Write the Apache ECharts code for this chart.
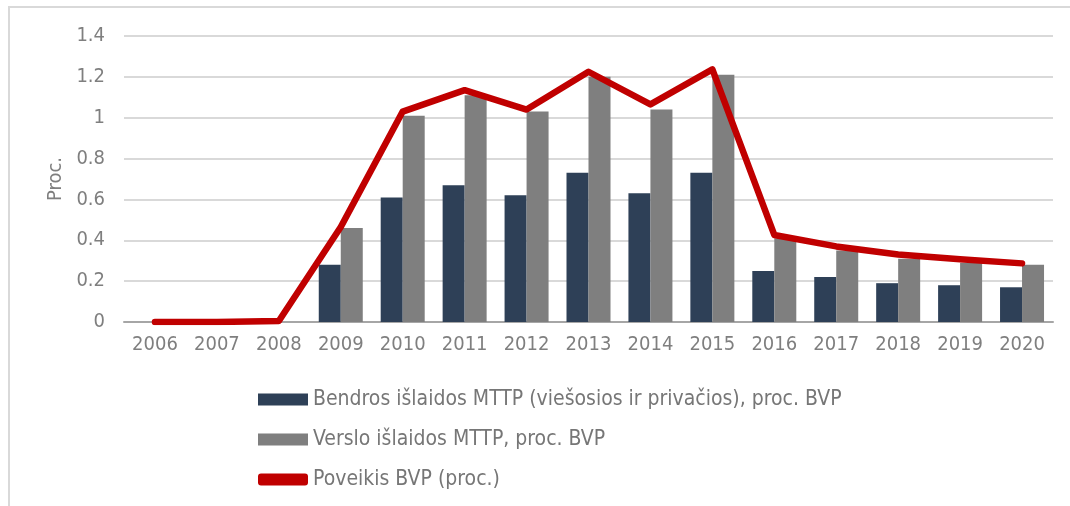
<!DOCTYPE html>
<html>
<head>
<meta charset="utf-8">
<script src="https://cdn.jsdelivr.net/npm/echarts@6/dist/echarts.min.js"></script>
<style>
    html, body { margin: 0; padding: 0; background: #fff; }
    #main { width: 1070px; height: 506px; }
</style>
</head>
<body>
<div id="main"></div>
<script>
var years = ['2006', '2007', '2008', '2009', '2010', '2011', '2012', '2013', '2014', '2015', '2016', '2017', '2018', '2019', '2020'];
// Bendros išlaidos MTTP (viešosios ir privačios)
var bendros = [null, null, null, 0.28, 0.61, 0.67, 0.62, 0.73, 0.63, 0.73, 0.25, 0.22, 0.19, 0.18, 0.17];
// Verslo išlaidos MTTP
var verslo = [null, null, null, 0.46, 1.01, 1.11, 1.03, 1.20, 1.04, 1.21, 0.41, 0.35, 0.31, 0.29, 0.28];
// Poveikis BVP
var poveikis = [0, 0, 0.005, 0.465, 1.03, 1.135, 1.04, 1.225, 1.065, 1.237, 0.426, 0.37, 0.33, 0.307, 0.287];
var names = ['Bendros išlaidos MTTP (viešosios ir privačios), proc. BVP', 'Verslo išlaidos MTTP, proc. BVP', 'Poveikis BVP (proc.)'];

var font = 'DejaVu Sans Condensed';
var myChart = echarts.init(document.getElementById('main'));
var option = {
    animation: false,
    textStyle: { fontFamily: font },
    graphic: [{
        type: 'rect',
        shape: { x: 9, y: 7, width: 1200, height: 1000 },
        style: { fill: 'none', stroke: '#d9d9d9', lineWidth: 2 },
        silent: true
    }],
    grid: {
        left: 124,
        right: 17,
        top: 36,
        bottom: 184
    },
    legend: {
        orient: 'vertical',
        left: 253,
        top: 384,
        itemWidth: 50,
        itemHeight: 12,
        itemGap: 19,
        textStyle: { color: '#767676', fontSize: 21, fontFamily: font },
        data: [
            { name: names[0], icon: 'rect' },
            { name: names[1], icon: 'rect' },
            { name: names[2], icon: 'roundRect' }
        ]
    },
    xAxis: {
        type: 'category',
        data: years,
        axisLine: { show: true, lineStyle: { color: '#a6a6a6', width: 2 } },
        axisTick: { show: false },
        axisLabel: { color: '#7f7f7f', fontSize: 20, margin: 13, fontFamily: font }
    },
    yAxis: {
        type: 'value',
        min: 0,
        max: 1.4,
        interval: 0.2,
        name: 'Proc.',
        nameLocation: 'middle',
        nameGap: 58,
        nameTextStyle: { color: '#7f7f7f', fontSize: 20, fontFamily: font },
        axisLine: { show: false },
        axisTick: { show: false },
        axisLabel: { color: '#7f7f7f', fontSize: 20, margin: 19, fontFamily: font },
        splitLine: { lineStyle: { color: '#d9d9d9', width: 2 } }
    },
    series: [{
        name: names[0],
        type: 'bar',
        data: bendros,
        barWidth: 22,
        barGap: '0%',
        itemStyle: { color: '#2e4057' }
    }, {
        name: names[1],
        type: 'bar',
        data: verslo,
        barWidth: 22,
        barGap: '0%',
        itemStyle: { color: '#7f7f7f' }
    }, {
        name: names[2],
        type: 'line',
        data: poveikis,
        symbol: 'none',
        z: 5,
        itemStyle: { color: '#c00000' },
        lineStyle: { color: '#c00000', width: 6.5, cap: 'round', join: 'round' }
    }]
};
myChart.setOption(option);
</script>
</body>
</html>
